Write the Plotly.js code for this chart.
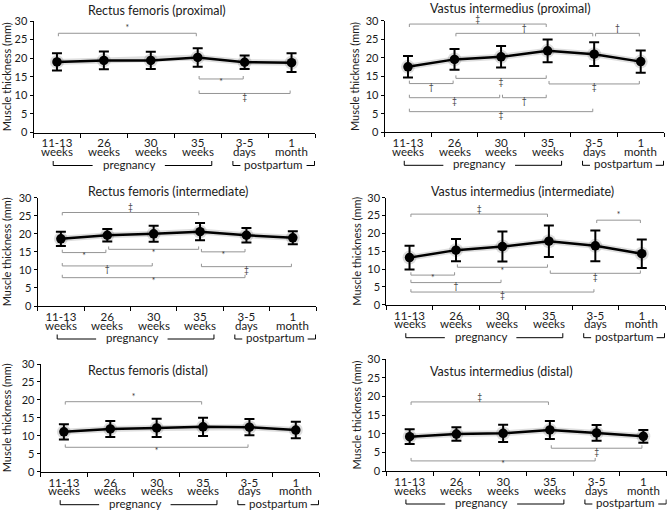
<!DOCTYPE html>
<html><head><meta charset="utf-8">
<script src="https://cdn.plot.ly/plotly-3.0.1.min.js"></script>
<style>html,body{margin:0;padding:0;background:#fff}#chart{width:668px;height:513px}</style>
</head><body><div id="chart"></div>
<script>
// ---------------- data ----------------
const categoryLine1 = ['11-13', '26', '30', '35', '3-5', '1'];
const categoryLine2 = ['weeks', 'weeks', 'weeks', 'weeks', 'days', 'month'];
const groupLabels = ['pregnancy', 'postpartum'];
const groupFirst = [0, 4];
const groupLast = [3, 5];
const yTitle = 'Muscle thickness (mm)';
const panelTitles = ['Rectus femoris (proximal)', 'Vastus intermedius (proximal)',
  'Rectus femoris (intermediate)', 'Vastus intermedius (intermediate)',
  'Rectus femoris (distal)', 'Vastus intermedius (distal)'];

// Rectus femoris (proximal)
const rfProxMean = [19.0, 19.4, 19.4, 20.2, 18.9, 18.8];
const rfProxSD = [2.3, 2.4, 2.3, 2.5, 1.8, 2.5];
const rfProxFrom = [0, 3, 3];
const rfProxTo = [3, 4, 5];
const rfProxLevel = [26.7, 14.4, 10.5];
const rfProxSymbol = ['*', '*', '‡'];
const rfProxSide = ['top', 'bottom', 'bottom'];

// Vastus intermedius (proximal)
const viProxMean = [17.6, 19.6, 20.3, 21.9, 21.0, 19.0];
const viProxSD = [2.9, 2.8, 2.9, 3.05, 3.2, 3.0];
const viProxFrom = [0, 1, 4, 0, 1, 3, 0, 2, 0];
const viProxTo = [3, 4, 5, 1, 3, 5, 2, 3, 4];
const viProxLevel = [29.1, 26.6, 26.6, 13.1, 14.5, 13.0, 9.3, 9.3, 5.55];
const viProxSymbol = ['‡', '†', '†', '†', '‡', '‡', '‡', '†', '‡'];
const viProxSide = ['top', 'top', 'top', 'bottom', 'bottom', 'bottom', 'bottom', 'bottom', 'bottom'];

// Rectus femoris (intermediate)
const rfIntMean = [18.6, 19.6, 20.0, 20.6, 19.6, 18.9];
const rfIntSD = [2.0, 1.7, 2.2, 2.4, 2.0, 1.8];
const rfIntFrom = [0, 0, 1, 3, 0, 3, 0];
const rfIntTo = [3, 1, 3, 4, 2, 5, 4];
const rfIntLevel = [25.9, 14.8, 15.7, 15.0, 11.1, 10.9, 7.85];
const rfIntSymbol = ['‡', '*', '*', '*', '†', '‡', '*'];
const rfIntSide = ['top', 'bottom', 'bottom', 'bottom', 'bottom', 'bottom', 'bottom'];

// Vastus intermedius (intermediate)
const viIntMean = [13.2, 15.3, 16.3, 17.8, 16.5, 14.3];
const viIntSD = [3.3, 3.15, 4.2, 4.4, 4.3, 4.0];
const viIntFrom = [0, 4, 0, 1, 3, 0, 0];
const viIntTo = [3, 5, 1, 3, 5, 2, 4];
const viIntLevel = [25.4, 23.7, 8.3, 10.5, 8.8, 6.2, 3.55];
const viIntSymbol = ['‡', '*', '*', '*', '‡', '†', '‡'];
const viIntSide = ['top', 'top', 'bottom', 'bottom', 'bottom', 'bottom', 'bottom'];

// Rectus femoris (distal)
const rfDistMean = [11.1, 11.9, 12.2, 12.5, 12.4, 11.6];
const rfDistSD = [2.15, 2.2, 2.55, 2.55, 2.25, 2.3];
const rfDistFrom = [0, 0];
const rfDistTo = [3, 4];
const rfDistLevel = [19.5, 6.8];
const rfDistSymbol = ['*', '*'];
const rfDistSide = ['top', 'bottom'];

// Vastus intermedius (distal)
const viDistMean = [9.2, 9.9, 10.1, 11.0, 10.2, 9.3];
const viDistSD = [2.0, 1.8, 2.3, 2.4, 2.1, 1.7];
const viDistFrom = [0, 3, 0];
const viDistTo = [3, 5, 4];
const viDistLevel = [18.5, 6.1, 2.7];
const viDistSymbol = ['‡', '‡', '*'];
const viDistSide = ['top', 'bottom', 'bottom'];

// ---------------- layout / style ----------------
const W = 668, H = 513;
const FONT = 'Lato, "Open Sans", sans-serif';
const TXT = '#1a1a1a';

const panels = [
  {title: panelTitles[0], mean: rfProxMean, sd: rfProxSD, from: rfProxFrom, to: rfProxTo, level: rfProxLevel, symbol: rfProxSymbol, side: rfProxSide},
  {title: panelTitles[1], mean: viProxMean, sd: viProxSD, from: viProxFrom, to: viProxTo, level: viProxLevel, symbol: viProxSymbol, side: viProxSide},
  {title: panelTitles[2], mean: rfIntMean, sd: rfIntSD, from: rfIntFrom, to: rfIntTo, level: rfIntLevel, symbol: rfIntSymbol, side: rfIntSide},
  {title: panelTitles[3], mean: viIntMean, sd: viIntSD, from: viIntFrom, to: viIntTo, level: viIntLevel, symbol: viIntSymbol, side: viIntSide},
  {title: panelTitles[4], mean: rfDistMean, sd: rfDistSD, from: rfDistFrom, to: rfDistTo, level: rfDistLevel, symbol: rfDistSymbol, side: rfDistSide},
  {title: panelTitles[5], mean: viDistMean, sd: viDistSD, from: viDistFrom, to: viDistTo, level: viDistLevel, symbol: viDistSymbol, side: viDistSide}
];

// plot-area boxes in pixels and title centres (styling)
const boxes = [
  {l: 33.5, r: 315, t: 21, b: 132.5, tx: 157, ty: 10, so: 0},
  {l: 384.7, r: 664, t: 20.7, b: 132.3, tx: 511, ty: 8.5, so: 3},
  {l: 37.7, r: 316, t: 197.7, b: 306, tx: 168, ty: 191.7, so: 4},
  {l: 386.3, r: 665, t: 197.7, b: 304.7, tx: 522, ty: 191.7, so: 3},
  {l: 40.7, r: 319, t: 364, b: 471.7, tx: 148, ty: 370, so: 7},
  {l: 386.3, r: 666.7, t: 359, b: 471, tx: 501, ty: 371, so: 3}
];
// group bracket geometry (in category units)
const groupStyle = [
  {padL: 0.08, padR: 0.30, gapL: 0.76, gapR: 2.30},
  {padL: 0.25, padR: 0.49, gapL: 3.91, gapR: 5.32}
];
const tickH = 0.8, inset = 0.03;

const idx = categoryLine1.map((c, i) => i);
const bounds = idx.map(i => i - 0.5).concat([idx.length - 0.5]);
const xRange = [-0.5, idx.length - 0.5];

const traces = [];
const layout = {
  width: W, height: H, margin: {l: 0, r: 0, t: 0, b: 0},
  paper_bgcolor: '#fff', plot_bgcolor: 'rgba(0,0,0,0)', showlegend: false,
  font: {family: FONT, color: TXT, size: 11},
  annotations: [], shapes: []
};
const py = px => 1 - px / H;

panels.forEach((p, k) => {
  const n = k + 1;
  const sfx = n === 1 ? '' : String(n);
  const xb = 'x' + sfx, yb = 'y' + sfx;
  const bx = boxes[k];

  layout['xaxis' + sfx] = {
    domain: [bx.l / W, bx.r / W], anchor: yb, range: xRange,
    tickmode: 'array', tickvals: idx, ticktext: categoryLine1, ticks: '', tickangle: 0,
    showline: true, linecolor: '#000', linewidth: 1, showgrid: false, zeroline: false,
    tickfont: {size: 11.5, color: TXT},
    minor: {tickmode: 'array', tickvals: bounds, ticks: 'outside', ticklen: 4, tickcolor: '#000', tickwidth: 1, showgrid: false},
    fixedrange: true
  };
  layout['yaxis' + sfx] = {
    domain: [py(bx.b), py(bx.t)], anchor: xb, range: [0, 30],
    tickmode: 'linear', tick0: 0, dtick: 5, ticks: 'outside', ticklen: 3, tickcolor: '#000',
    showline: true, linecolor: '#000', linewidth: 1, showgrid: false, zeroline: false,
    tickfont: {size: 11, color: TXT},
    title: {text: yTitle, font: {size: 11, color: TXT}, standoff: bx.so},
    fixedrange: true
  };

  // second line of the category labels
  idx.forEach(i => {
    layout.annotations.push({text: categoryLine2[i], xref: xb, yref: 'paper', x: i, y: py(bx.b + 19),
      xanchor: 'center', yanchor: 'middle', showarrow: false, font: {size: 11.5, color: TXT}});
  });

  // panel title
  layout.annotations.push({text: p.title, xref: 'paper', yref: 'paper', x: bx.tx / W, y: py(bx.ty),
    xanchor: 'center', yanchor: 'middle', showarrow: false, font: {size: 12.5, color: TXT}});

  // significance brackets
  const lx = [], ly = [], sx = [], sy = [], st = [], sp = [];
  p.from.forEach((a, j) => {
    const b = p.to[j], lv = p.level[j], up = p.side[j] === 'top';
    const e = up ? lv - tickH : lv + tickH;
    lx.push(a + inset, a + inset, b - inset, b - inset, null);
    ly.push(e, lv, lv, e, null);
    sx.push((a + b) / 2); sy.push(lv); st.push(p.symbol[j]);
    sp.push(up ? 'top center' : 'bottom center');
  });
  traces.push({type: 'scatter', mode: 'lines', x: lx, y: ly, xaxis: xb, yaxis: yb,
    line: {color: '#959595', width: 1}, hoverinfo: 'skip'});
  traces.push({type: 'scatter', mode: 'text', x: sx, y: sy, text: st, textposition: sp,
    textfont: {size: 8.5, color: '#3a3a3a', family: FONT}, xaxis: xb, yaxis: yb, cliponaxis: false, hoverinfo: 'skip'});

  // soft shadow under the series
  traces.push({type: 'scatter', mode: 'lines+markers', x: idx, y: p.mean, xaxis: xb, yaxis: yb,
    line: {color: 'rgba(0,0,0,0.13)', width: 6}, marker: {size: 14, color: 'rgba(0,0,0,0.13)'}, hoverinfo: 'skip'});
  // main series with SD bars
  traces.push({type: 'scatter', mode: 'lines+markers', x: idx, y: p.mean, xaxis: xb, yaxis: yb,
    error_y: {type: 'data', array: p.sd, visible: true, color: '#000', thickness: 2, width: 5},
    line: {color: '#000', width: 2.5}, marker: {size: 9.5, color: '#000'}, cliponaxis: false});

  // group brackets (pregnancy / postpartum)
  groupLabels.forEach((g, gi) => {
    const gs = groupStyle[gi];
    const x0 = groupFirst[gi] - gs.padL, x1 = groupLast[gi] + gs.padR;
    const yl = py(bx.b + 33), yt = py(bx.b + 28.5);
    const ln = {color: '#000', width: 1};
    layout.shapes.push({type: 'line', xref: xb, yref: 'paper', x0: x0, x1: x0, y0: yl, y1: yt, line: ln});
    layout.shapes.push({type: 'line', xref: xb, yref: 'paper', x0: x0, x1: gs.gapL, y0: yl, y1: yl, line: ln});
    layout.shapes.push({type: 'line', xref: xb, yref: 'paper', x0: gs.gapR, x1: x1, y0: yl, y1: yl, line: ln});
    layout.shapes.push({type: 'line', xref: xb, yref: 'paper', x0: x1, x1: x1, y0: yl, y1: yt, line: ln});
    layout.annotations.push({text: g, xref: xb, yref: 'paper', x: (gs.gapL + gs.gapR) / 2, y: py(bx.b + 31.5),
      xanchor: 'center', yanchor: 'middle', showarrow: false, font: {size: 11.5, color: TXT}});
  });
});

Plotly.newPlot('chart', traces, layout, {staticPlot: true, displayModeBar: false});
</script>
</body></html>
